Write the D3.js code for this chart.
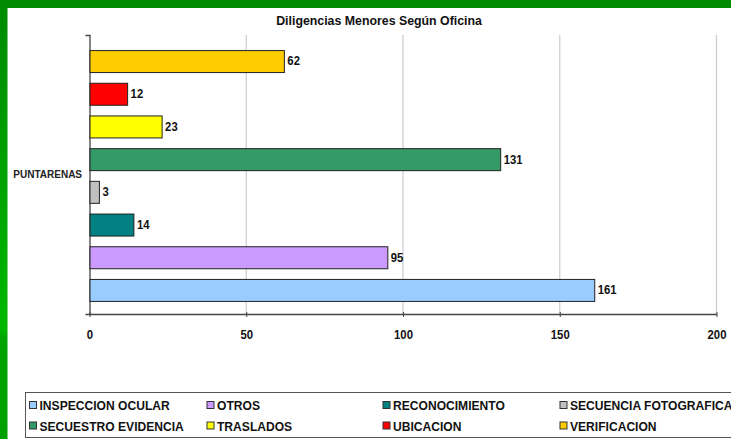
<!DOCTYPE html>
<html>
<head>
<meta charset="utf-8">
<script src="https://cdn.jsdelivr.net/npm/d3@7"></script>
<style>
  html, body { margin: 0; padding: 0; background: #fff; }
  svg text { font-family: "Liberation Sans", Arial, sans-serif; font-weight: bold; transform-box: fill-box; }
  /* letra angosta tipo Arial Narrow */
  .n-start { transform: scaleX(0.87); transform-origin: left center; }
  .n-mid { transform: scaleX(0.87); transform-origin: center center; }
  .n-end { transform: scaleX(0.87); transform-origin: right center; }
  .ley { transform: scaleX(0.93); transform-origin: left center; }
  .tit { transform: scaleX(0.915); transform-origin: center center; }
</style>
</head>
<body>
<div id="container"></div>
<script>
// datos
var oficinas = ["PUNTARENAS"];
var series = ["INSPECCION OCULAR", "OTROS", "RECONOCIMIENTO", "SECUENCIA FOTOGRAFICA",
              "SECUESTRO EVIDENCIA", "TRASLADOS", "UBICACION", "VERIFICACION"];
var valores = [161, 95, 14, 3, 131, 23, 12, 62];
var colores = ["#99CCFF", "#CC99FF", "#008080", "#C0C0C0", "#339966", "#FFFF00", "#FF0000", "#FFCC00"];
var xTicks = [0, 50, 100, 150, 200];
var titulo = "Diligencias Menores Según Oficina";

var W = 731, H = 439;
var svg = d3.select("div#container").append("svg").attr("width", W).attr("height", H);

// borde verde
var defs = svg.append("defs");
var grad = defs.append("linearGradient").attr("id", "gverde").attr("x1", 0).attr("y1", 0).attr("x2", 0).attr("y2", 1);
grad.append("stop").attr("offset", "0%").attr("stop-color", "#008a00");
grad.append("stop").attr("offset", "75%").attr("stop-color", "#00b800");
grad.append("stop").attr("offset", "77%").attr("stop-color", "#00a400");
grad.append("stop").attr("offset", "100%").attr("stop-color", "#00a000");
svg.append("rect").attr("x", 0).attr("y", 0).attr("width", W).attr("height", 8).attr("fill", "#008a00");
svg.append("rect").attr("x", 0).attr("y", 0).attr("width", 7.5).attr("height", H).attr("fill", "url(#gverde)");

var margin = {top: 35, left: 89.5, right: 14.5};
var width = W - margin.left - margin.right,
    height = 314 - margin.top;

var g = svg.append("g").attr("transform", "translate(" + margin.left + "," + margin.top + ")");

var xScale = d3.scaleLinear().domain([0, 200]).range([0, width]);
var y0 = d3.scaleBand().domain(oficinas).range([0, height]);
// series de abajo hacia arriba
var y1 = d3.scaleBand().domain(series.slice().reverse())
           .range([1.5, y0.bandwidth() + 1.5]).paddingInner(0.327).paddingOuter(0.43);

// grid
g.selectAll("line.grid").data(xTicks.filter(function(d) { return d > 0; }))
  .enter().append("line")
  .attr("class", "grid")
  .attr("x1", function(d) { return xScale(d); }).attr("x2", function(d) { return xScale(d); })
  .attr("y1", 0).attr("y2", height)
  .attr("stroke", "#cfcfcf").attr("stroke-width", 1.3);

// eje x
var xAxis = d3.axisBottom(xScale).tickValues(xTicks).tickSizeInner(4).tickSizeOuter(0);
var gx = g.append("g").attr("transform", "translate(0," + height + ")").call(xAxis);
gx.select(".domain").attr("stroke", "#444").attr("stroke-width", 1.3);
gx.selectAll(".tick line").attr("stroke", "#444").attr("y1", -2).attr("y2", 3);
gx.selectAll(".tick text").attr("y", 15.5).attr("class", "n-mid")
  .style("font-size", "13px").attr("fill", "#111");

// eje y
var yAxis = d3.axisLeft(y0).tickSizeInner(0).tickSizeOuter(4).tickPadding(7.5);
var gy = g.append("g").call(yAxis);
gy.select(".domain").attr("stroke", "#444").attr("stroke-width", 1.3);
gy.selectAll(".tick text").attr("class", "n-end").style("font-size", "11.5px").attr("fill", "#222");

// barras
var barras = g.append("g").attr("transform", "translate(0," + y0(oficinas[0]) + ")");
barras.selectAll("rect").data(series).enter().append("rect")
  .attr("x", 0.5)
  .attr("y", function(d) { return y1(d); })
  .attr("width", function(d, i) { return xScale(valores[i]); })
  .attr("height", y1.bandwidth())
  .attr("fill", function(d, i) { return colores[i]; })
  .attr("stroke", "#222").attr("stroke-width", 1);

barras.selectAll("text").data(series).enter().append("text")
  .attr("class", "n-start")
  .attr("x", function(d, i) { return xScale(valores[i]) + 3.5; })
  .attr("y", function(d) { return y1(d) + y1.bandwidth() / 2; })
  .attr("dy", "0.3em")
  .style("font-size", "13px")
  .attr("fill", "#111")
  .text(function(d, i) { return valores[i]; });

// titulo
svg.append("text").attr("class", "tit").attr("x", 379).attr("y", 25).attr("text-anchor", "middle")
  .style("font-size", "13.5px").attr("fill", "#111").text(titulo);

// leyenda
svg.append("rect").attr("x", 25.5).attr("y", 392.5).attr("width", 720).attr("height", 45)
  .attr("fill", "#fff").attr("stroke", "#555").attr("stroke-width", 1);
var colX = [29, 206.5, 382.5, 559.5];
var rowY = [410, 430.5];
var ley = svg.append("g").selectAll("g").data(series).enter().append("g")
  .attr("transform", function(d, i) { return "translate(" + colX[i % 4] + "," + rowY[Math.floor(i / 4)] + ")"; });
ley.append("rect").attr("x", 0.5).attr("y", -8.5).attr("width", 7).attr("height", 7)
  .attr("fill", function(d, i) { return colores[i]; }).attr("stroke", "#333").attr("stroke-width", 1);
ley.append("text").attr("class", "ley").attr("x", 10.5)
  .style("font-size", "13px").attr("fill", "#111").text(function(d) { return d; });
</script>
</body>
</html>
